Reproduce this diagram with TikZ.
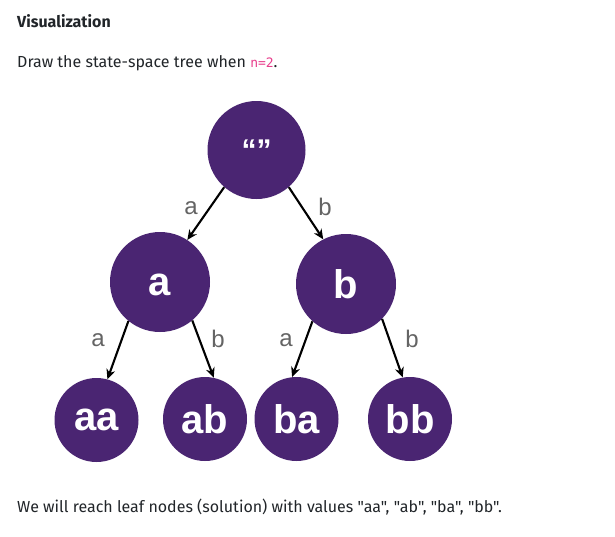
\documentclass[tikz,border=0pt]{standalone}
\usepackage{fontspec}
\setmainfont{Fira Sans}[Ligatures=TeXOff]
\newfontfamily\nodefont{Liberation Sans}
\newfontfamily\codefont{DejaVu Sans Mono}
\usetikzlibrary{arrows.meta}
\definecolor{nodepurple}{RGB}{74,37,114}
\definecolor{bodytext}{RGB}{33,37,41}
\definecolor{codepink}{RGB}{232,62,140}
\definecolor{edgegray}{RGB}{100,100,100}
\tikzset{
  st/.style={circle, fill=nodepurple, inner sep=0pt, text=white, font=\nodefont\bfseries\fontsize{40}{40}\selectfont},
  mid/.style={st, minimum size=100pt},
  leaf/.style={st, minimum size=84pt, font=\nodefont\bfseries\fontsize{40}{40}\selectfont},
  arr/.style={line width=2.1pt, -{Stealth[length=10pt,width=9pt]}},
  elab/.style={text=edgegray, font=\nodefont\fontsize{24}{24}\selectfont},
  txt/.style={anchor=base west, inner sep=0pt, text=bodytext, font=\fontsize{16}{19}\selectfont}
}
\begin{document}
\begin{tikzpicture}[x=1pt,y=-1pt]
\useasboundingbox[fill=white] (0,0) rectangle (615,536);
\node[txt, font=\bfseries\fontsize{16}{19}\selectfont] (title) at (17,27) {Visualization};
\node[txt] (q) at (17,67) {Draw the state-space tree when {\codefont\color{codepink}\fontsize{13}{16}\selectfont n=2}.};
\node[txt] (ans) at (17,512) {We will reach leaf nodes (solution) with values "aa", "ab", "ba", "bb".};

\node[mid, minimum size=98pt, font=\nodefont\bfseries\fontsize{30}{30}\selectfont] (root) at (256.5,150) {“”};
\node[mid, text height=27pt, text depth=0pt] (a) at (160,282) {a};
\node[mid] (b) at (346,284) {b};
\node[leaf] (aa) at (96.5,420) {aa};
\node[leaf] (ab) at (205,419) {ab};
\node[leaf] (ba) at (296.5,419) {ba};
\node[leaf] (bb) at (410,419) {bb};

\draw[arr] (root.229) -- (a.57);
\draw[arr] (root.311) -- (b.117);
\draw[arr] (a.231) -- (aa.75);
\draw[arr] (a.310) -- (ab.78);
\draw[arr] (b.228) -- (ba.96);
\draw[arr] (b.316) -- (bb.100);

\node[elab] (la) at (191,208) {a};
\node[elab] (lb) at (325,207) {b};
\node[elab] (laa) at (98,340) {a};
\node[elab] (lab) at (218,339) {b};
\node[elab] (lba) at (286,340) {a};
\node[elab] (lbb) at (412,339) {b};
\end{tikzpicture}
\end{document}
